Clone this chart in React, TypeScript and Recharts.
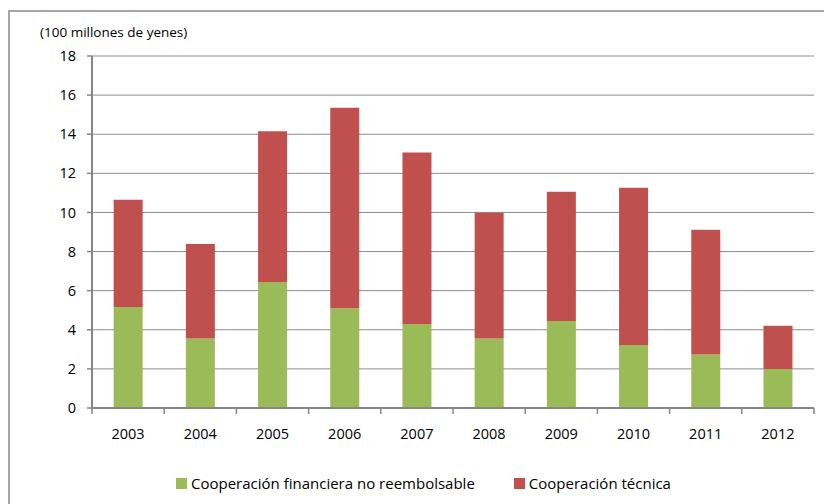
import React from 'react';
import { BarChart, Bar, XAxis, YAxis, CartesianGrid } from 'recharts';

// Years and the two stacked series (100 millones de yenes)
const years = ['2003', '2004', '2005', '2006', '2007', '2008', '2009', '2010', '2011', '2012'];
const financiera = [5.16, 3.56, 6.44, 5.1, 4.29, 3.56, 4.45, 3.22, 2.73, 1.99];
const tecnica = [5.49, 4.82, 7.71, 10.25, 8.78, 6.42, 6.61, 8.04, 6.39, 2.22];
const yTicks = [0, 2, 4, 6, 8, 10, 12, 14, 16, 18];

const seriesNames = {
  financiera: 'Cooperación financiera no reembolsable',
  tecnica: 'Cooperación técnica',
};

const colors = {
  financiera: '#9BBB59',
  tecnica: '#C0504D',
  grid: '#8c8c8c',
  axis: '#868686',
};

const FONT = '"Open Sans", Lato, sans-serif';
const W = 824;
const H = 504;
const margin = { top: 56, right: 10, bottom: 66, left: 32 };
const Y_WIDTH = 60;
const plotLeft = margin.left + Y_WIDTH;
const plotWidth = W - margin.right - plotLeft;
const band = plotWidth / years.length;

const data = years.map((year, i) => ({
  year,
  financiera: financiera[i],
  tecnica: tecnica[i],
}));

// x ticks sit on category boundaries, like the spreadsheet original
const XTick = (props: any) => {
  const { x, y, payload, index } = props;
  const axisY = y - 8;
  const left = x - band / 2;
  return (
    <g>
      <line x1={left} x2={left} y1={axisY} y2={axisY + 6} stroke={colors.axis} strokeWidth={1.5} />
      {index === years.length - 1 && (
        <line x1={left + band} x2={left + band} y1={axisY} y2={axisY + 6} stroke={colors.axis} strokeWidth={1.5} />
      )}
      <text x={x} y={axisY + 31} textAnchor="middle" fontSize={14.5} fontFamily={FONT} fill="#000">
        {payload.value}
      </text>
    </g>
  );
};

const Legend = () => (
  <div
    style={{
      position: 'absolute',
      top: 473,
      left: 176,
      display: 'flex',
      alignItems: 'center',
      fontFamily: FONT,
      fontSize: 15,
      color: '#000',
      whiteSpace: 'nowrap',
    }}
  >
    {(['financiera', 'tecnica'] as const).map((k, i) => (
      <div key={k} style={{ display: 'flex', alignItems: 'center', marginRight: i === 0 ? 39 : 0 }}>
        <span style={{ width: 11, height: 11, background: colors[k], display: 'inline-block', marginRight: 4 }} />
        <span>{seriesNames[k]}</span>
      </div>
    ))}
  </div>
);

export default function App() {
  return (
    <div style={{ position: 'fixed', left: 0, top: 0, width: W, height: H, overflow: 'hidden', background: '#fff' }}>
      <div
        style={{
          position: 'absolute',
          left: 8,
          top: 10,
          width: 900,
          height: 600,
          border: '2px solid #a6a6a6',
        }}
      />
      <div
        style={{
          position: 'absolute',
          left: 40,
          top: 23,
          fontFamily: FONT,
          fontSize: 13.5,
          color: '#000',
          whiteSpace: 'nowrap',
        }}
      >
        (100 millones de yenes)
      </div>
      <div style={{ position: 'absolute', left: 0, top: 0 }}>
        <BarChart width={W} height={H} data={data} margin={margin} barCategoryGap="30%">
          <CartesianGrid vertical={false} stroke={colors.grid} strokeWidth={1} />
          <XAxis
            dataKey="year"
            tickLine={false}
            axisLine={{ stroke: colors.axis, strokeWidth: 2 }}
            tick={<XTick />}
            interval={0}
            height={30}
          />
          <YAxis
            domain={[0, 18]}
            ticks={yTicks}
            width={Y_WIDTH}
            axisLine={{ stroke: colors.axis, strokeWidth: 2 }}
            tickLine={{ stroke: colors.axis, strokeWidth: 1.5 }}
            tickSize={5}
            tickMargin={11}
            tick={{ fontSize: 14.5, fontFamily: FONT, fill: '#000' }}
          />
          <Bar dataKey="financiera" stackId="a" fill={colors.financiera} isAnimationActive={false} />
          <Bar dataKey="tecnica" stackId="a" fill={colors.tecnica} isAnimationActive={false} />
        </BarChart>
      </div>
      <Legend />
    </div>
  );
}
